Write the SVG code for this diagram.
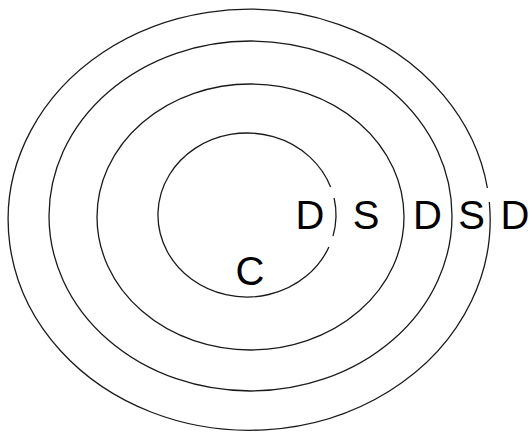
<svg xmlns="http://www.w3.org/2000/svg" width="530" height="433" viewBox="0 0 530 433">
<style>
.ring{fill:none;stroke:#1a1a1a;stroke-width:1.3}
.lbl{font-family:"Liberation Sans",Arial,sans-serif;font-size:40px;fill:#000;text-anchor:middle}
</style>
<rect width="530" height="433" fill="#fff"/>
<g id="rings">
<g id="ring-outer"><path class="ring" d="M487.4 188 A241 210.5 0 1 0 489.3 202"/></g>
<g id="ring-2"><ellipse class="ring" cx="250.5" cy="216" rx="201.5" ry="175"/></g>
<g id="ring-3"><ellipse class="ring" cx="250.5" cy="217" rx="153.5" ry="133"/></g>
<g id="ring-inner"><path class="ring" d="M330.6 187 A89 82 0 1 0 328.9 247"/><path class="ring" d="M334.1 198 A89 82 0 0 1 333 236"/></g>
</g>
<g id="labels">
<text class="lbl" x="310" y="229">D</text>
<text class="lbl" x="366" y="229">S</text>
<text class="lbl" x="427.5" y="229">D</text>
<text class="lbl" x="471.5" y="229">S</text>
<text class="lbl" x="515" y="229">D</text>
<text class="lbl" x="250" y="285">C</text>
</g>
</svg>
